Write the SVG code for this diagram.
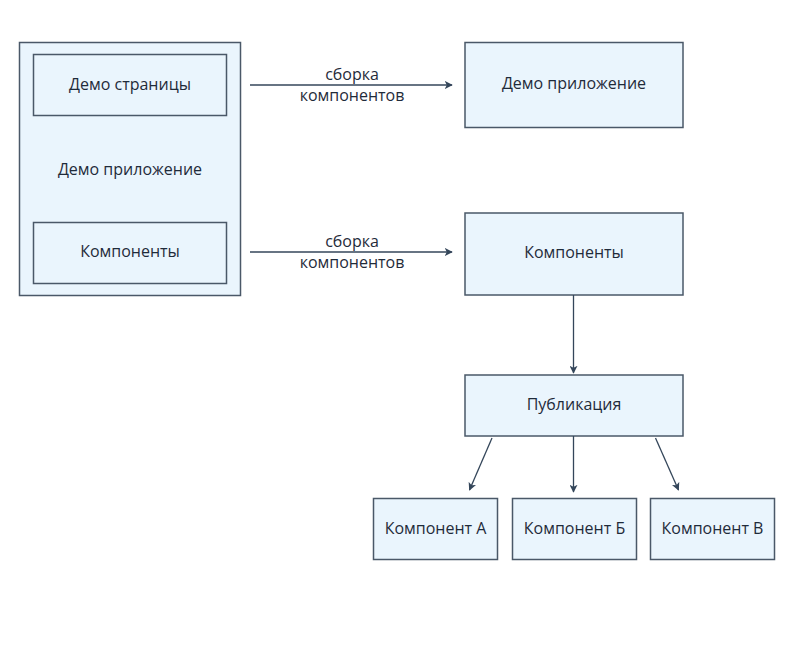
<svg xmlns="http://www.w3.org/2000/svg" width="800" height="651" viewBox="0 0 800 651">
<style>
.box{fill:#eaf5fd;stroke:#4a5868;stroke-width:1.5}
.t{font-family:"Open Sans","Noto Sans",sans-serif;font-size:16px;fill:#1f2b3a;text-anchor:middle;dominant-baseline:central}
.c{stroke:#34465a;stroke-width:1.3;fill:none;marker-end:url(#ah)}
</style>
<defs>
<marker id="ah" viewBox="0 0 10 10" refX="9" refY="5" markerWidth="8" markerHeight="8" markerUnits="userSpaceOnUse" orient="auto">
<path d="M0,0 L10,5 L0,10 L2.5,5 Z" fill="#34465a"/>
</marker>
</defs>
<rect width="800" height="651" fill="#ffffff"/>
<g id="demo-app-outer">
<rect class="box" x="19.5" y="42.5" width="221" height="253"/>
<text class="t" x="130" y="169">Демо приложение</text>
</g>
<g id="demo-pages">
<rect class="box" x="33.5" y="54.5" width="193" height="61"/>
<text class="t" x="130" y="84">Демо страницы</text>
</g>
<g id="components-inner">
<rect class="box" x="33.5" y="222.5" width="193" height="61"/>
<text class="t" x="130" y="251">Компоненты</text>
</g>
<g id="demo-app">
<rect class="box" x="465" y="42.5" width="218" height="85"/>
<text class="t" x="574" y="83">Демо приложение</text>
</g>
<g id="components">
<rect class="box" x="465" y="213" width="218" height="82"/>
<text class="t" x="574" y="252">Компоненты</text>
</g>
<g id="publication">
<rect class="box" x="465" y="375" width="218" height="61"/>
<text class="t" x="574" y="404">Публикация</text>
</g>
<g id="comp-a">
<rect class="box" x="373.5" y="498.5" width="124" height="61"/>
<text class="t" x="435.5" y="528">Компонент А</text>
</g>
<g id="comp-b">
<rect class="box" x="512.5" y="498.5" width="124" height="61"/>
<text class="t" x="574.5" y="528">Компонент Б</text>
</g>
<g id="comp-v">
<rect class="box" x="650.5" y="498.5" width="124" height="61"/>
<text class="t" x="712.5" y="528">Компонент В</text>
</g>
<g id="connectors">
<line class="c" x1="250" y1="85" x2="452" y2="85"/>
<line class="c" x1="250" y1="252" x2="452" y2="252"/>
<line class="c" x1="573.5" y1="295" x2="573.5" y2="373"/>
<line class="c" x1="492" y1="438" x2="469.5" y2="490"/>
<line class="c" x1="573.5" y1="436" x2="573.5" y2="492"/>
<line class="c" x1="655.5" y1="438" x2="678.5" y2="490"/>
<text class="t" x="352" y="74">сборка</text>
<text class="t" x="352" y="95">компонентов</text>
<text class="t" x="352" y="241">сборка</text>
<text class="t" x="352" y="262">компонентов</text>
</g>
</svg>
